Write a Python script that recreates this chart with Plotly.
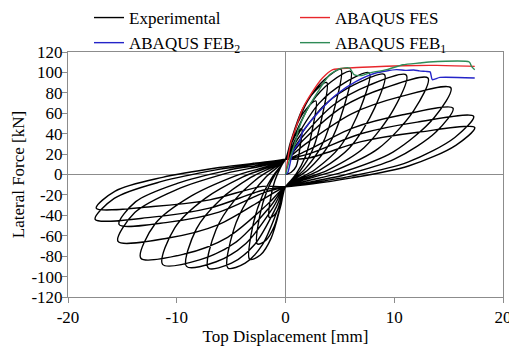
import plotly.graph_objects as go

# ---------------- data ----------------
# Experimental hysteresis: points along the loops, leaf by leaf (P = push, N = pull)
exp_x = [
    0,
    0.5, 0.98, 1.35, 1.5, 1.05, 0.6, 0.18, 0,            # P1
    -0.53, -0.98, -1.35, -1.5, -1.05, -0.6, -0.18, 0,    # N1
    0.98, 1.82, 2.52, 2.8, 1.96, 1.12, 0.34, 0,          # P2
    -0.91, -1.69, -2.34, -2.6, -1.82, -1.04, -0.31, 0,   # N2
    1.33, 2.47, 3.42, 3.8, 2.66, 1.52, 0.46, 0,          # P3
    -1.16, -2.15, -2.97, -3.3, -2.31, -1.32, -0.4, 0,    # N3
    1.79, 3.32, 4.59, 5.1, 3.57, 2.04, 0.61, 0,          # P4
    -1.86, -3.45, -4.77, -5.3, -3.71, -2.12, -0.64, 0,   # N4
    2.1, 3.9, 5.4, 6.0, 4.2, 2.4, 0.72, 0,               # P5
    -2.49, -4.62, -6.39, -7.1, -4.97, -2.84, -0.85, 0,   # N5
    2.7, 5.0, 6.93, 7.7, 5.39, 3.08, 0.92, 0,            # P6
    -3.19, -5.92, -8.19, -9.1, -6.37, -3.64, -1.09, 0,   # N6
    3.19, 5.92, 8.19, 9.1, 6.37, 3.64, 1.09, 0,          # P7
    -3.96, -7.35, -10.17, -11.3, -7.91, -4.52, -1.36, 0, # N7
    3.89, 7.22, 9.99, 11.1, 7.77, 4.44, 1.33, 0,         # P8
    -4.66, -8.65, -11.97, -13.3, -9.31, -5.32, -1.6, 0,  # N8
    4.59, 8.52, 11.79, 13.1, 9.17, 5.24, 1.57, 0,        # P9
    -5.39, -10.01, -13.86, -15.4, -10.78, -6.16, -1.85, 0,  # N9
    5.32, 9.88, 13.68, 15.2, 10.64, 6.08, 1.82, 0,       # P10
    -5.36, -9.95, -13.77, -15.3, -10.71, -6.12, -1.84, 0,   # N10
    5.39, 10.01, 13.86, 15.4, 10.78, 6.16, 1.85, 0,      # P11
    -6.13, -11.38, -15.75, -17.5, -12.25, -7.0, -2.1, 0, # N11
    6.06, 11.25, 15.57, 17.3, 12.11, 6.92, 2.08, 0,      # P12
    -6.09, -11.31, -15.66, -17.4, -12.18, -6.96, -2.09, 0,  # N12
    6.09, 11.31, 15.66, 17.4, 12.18, 6.96, 2.09, 0,      # P13
]
exp_y = [
    0,
    2, 8.0, 27.9, 45, 40.5, 31.5, 15.8, 15,
    5.3, -6.1, -22.1, -42, -39.9, -31.5, -14.7, -12,
    0.6, 17.4, 46.8, 72, 64.8, 50.4, 25.2, 15,
    0.9, -15.7, -39, -68, -64.6, -51, -23.8, -12,
    3.3, 23.7, 59.4, 90, 81, 63, 31.5, 15,
    -1.7, -21.3, -48.7, -83, -78.9, -62.3, -29.1, -12,
    5.3, 28.3, 68.5, 103, 92.7, 72.1, 36, 15,
    -3.1, -24.4, -54.2, -91.5, -86.9, -68.6, -32, -12,
    5, 27.6, 67.1, 101, 90.9, 70.7, 35.4, 15,
    -3.1, -24.4, -54.2, -91.5, -86.9, -68.6, -32, -12,
    4.7, 27, 66, 99.5, 89.6, 69.7, 34.8, 15,
    -2.9, -23.9, -53.3, -90, -85.5, -67.5, -31.5, -12,
    4.5, 26.5, 65, 98, 88.2, 68.6, 34.3, 15,
    -2.5, -23.1, -52, -88, -83.6, -66, -30.8, -12,
    4.4, 26.3, 64.7, 97.5, 87.8, 68.3, 34.1, 15,
    -1.5, -20.9, -48, -82, -77.9, -61.5, -28.7, -12,
    4, 25.3, 62.6, 94.5, 85, 66.2, 33.1, 15,
    1.3, -14.8, -37.3, -65.5, -62.2, -49.1, -22.9, -12,
    2.6, 22, 55.9, 85, 76.5, 59.5, 29.8, 15,
    4.1, -8.7, -26.6, -49, -46.6, -36.8, -17.2, -12,
    -0.5, 15, 41.9, 65, 58.5, 45.5, 22.8, 15,
    5, -6.8, -23.4, -44, -41.8, -33, -15.4, -12,
    -1.6, 12.2, 36.3, 57, 51.3, 39.9, 20, 15,
    6.8, -2.8, -16.2, -33, -31.4, -24.8, -11.6, -12,
    -3.3, 8.3, 28.6, 46, 41.4, 32.2, 16.1, 15,
]

# ABAQUS FES (red)
fes_x = [0, 0.12, 0.3, 0.52, 0.83, 1.6, 2.5, 3.4, 4.35, 5.9, 7.7, 10.8, 13.9, 17.4]
fes_y = [0, 8, 21, 32.4, 42.2, 65, 81.4, 94.5, 102.7, 104.3, 105.3, 106.6, 106.9, 105.9]

# ABAQUS FEB2 (blue)
feb2_x = [0, 0.2, 0.67, 1.29, 1.6, 3.1, 4.66, 6.5, 8.3, 10.2, 11.0, 11.8, 12.3, 12.9, 13.3, 13.5, 14.2, 17.4]
feb2_y = [0, 1.5, 22, 32.4, 42.2, 61.8, 78.2, 91.2, 99.4, 102.7, 102.0, 102.4, 101.5, 101.0, 100.5, 92.9, 95.1, 94.5]

# ABAQUS FEB1 (green)
feb1_x = [0, 0.37, 0.92, 1.13, 1.9, 3.0, 4.05, 5.0, 5.9, 6.3, 7.0, 7.7, 9.3, 10.8, 12.3, 13.2, 16.9, 17.1, 17.4]
feb1_y = [0, 14.5, 32.4, 42.2, 61.8, 81.4, 97.8, 103.6, 104.3, 97.8, 97, 99.4, 102.7, 107.5, 109.2, 110.2, 110.2, 106, 102.7]

x_ticks = [-20, -10, 0, 10, 20]
y_ticks = [-120, -100, -80, -60, -40, -20, 0, 20, 40, 60, 80, 100, 120]

# ---------------- figure ----------------
AXC = '#8c8c8c'
FONT = 'Liberation Serif'
fig = go.Figure()
fig.add_trace(go.Scatter(x=exp_x, y=exp_y, mode='lines', name='Experimental',
                         line=dict(color='black', width=1.4, shape='spline', smoothing=0.9),
                         legend='legend'))
fig.add_trace(go.Scatter(x=fes_x, y=fes_y, mode='lines', name='ABAQUS FES',
                         line=dict(color='#e8262b', width=1.4, shape='spline', smoothing=0.6),
                         legend='legend2'))
fig.add_trace(go.Scatter(x=feb2_x, y=feb2_y, mode='lines', name='ABAQUS FEB<sub>2</sub>',
                         line=dict(color='#2424c8', width=1.4, shape='spline', smoothing=0.6),
                         legend='legend'))
fig.add_trace(go.Scatter(x=feb1_x, y=feb1_y, mode='lines', name='ABAQUS FEB<sub>1</sub>',
                         line=dict(color='#2e8b57', width=1.4, shape='spline', smoothing=0.6),
                         legend='legend2'))

axis_common = dict(showline=True, linecolor=AXC, linewidth=1, mirror=True,
                   ticks='outside', tickcolor=AXC, ticklen=5, showgrid=False,
                   zeroline=True, zerolinecolor=AXC, zerolinewidth=1, automargin=False,
                   tickfont=dict(family=FONT, size=17, color='black'))

# page body adds an 8 px offset, so the figure is 8 px smaller than the window
W, H = 509, 339
PL, PW, PT, PH = 60, 435, 44, 245  # plot-area geometry in figure pixels

fig.update_layout(
    width=W, height=H,
    margin=dict(l=PL, r=W - PL - PW, t=PT, b=H - PT - PH, autoexpand=False),
    paper_bgcolor='white', plot_bgcolor='white',
    font=dict(family=FONT, size=17, color='black'),
    showlegend=True,
    xaxis=dict(range=[-20, 20], tickvals=x_ticks, ticktext=[str(v) for v in x_ticks],
               title=dict(text='Top Displacement [mm]', standoff=0,
                          font=dict(family=FONT, size=17)),
               **axis_common),
    yaxis=dict(range=[-120, 120], tickvals=y_ticks, ticktext=[str(v) for v in y_ticks],
               ticklabelstandoff=-4,
               title=dict(text='Lateral Force [kN]', standoff=2,
                          font=dict(family=FONT, size=17)),
               **axis_common),
    legend=dict(x=(81 - PL) / PW, y=1 + (PT + 8) / PH,
                xanchor='left', yanchor='top', bgcolor='rgba(0,0,0,0)',
                font=dict(family=FONT, size=17), tracegroupgap=0),
    legend2=dict(x=(287 - PL) / PW, y=1 + (PT + 8) / PH,
                 xanchor='left', yanchor='top', bgcolor='rgba(0,0,0,0)',
                 font=dict(family=FONT, size=17), tracegroupgap=0),
)

fig.write_html('out.html')
